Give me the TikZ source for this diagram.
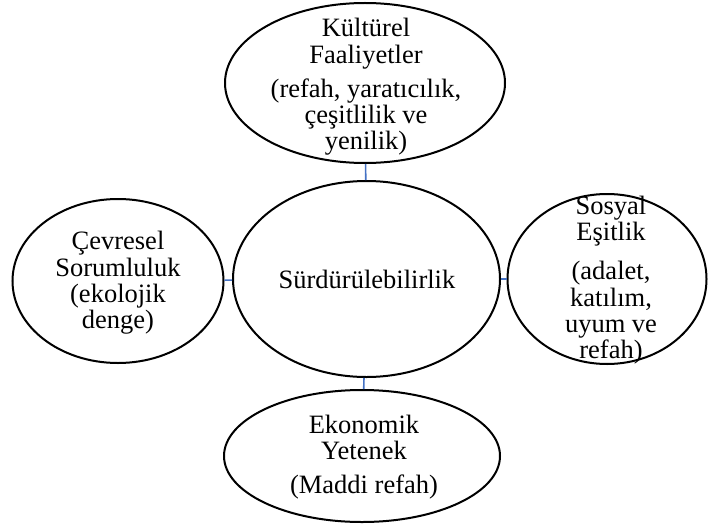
\documentclass[tikz,border=0pt]{standalone}
\usepackage{fontspec}
\setmainfont{Liberation Serif}
\usetikzlibrary{shapes.geometric}
\definecolor{linkblue}{HTML}{4472C4}
\begin{document}
\begin{tikzpicture}[x=1pt,y=-1pt,
    bubble/.style={draw=black,line width=2pt,ellipse,inner sep=0pt},
    txt/.style={align=center,inner sep=0pt,font=\fontsize{26.5}{26.3}\selectfont},
    link/.style={draw=linkblue,line width=1.6pt}]
    \useasboundingbox (0,0) rectangle (708,524);
    \node[bubble,minimum width=280,minimum height=160] (kultur) at (365,83) {};
    \node[bubble,minimum width=267,minimum height=196] (surd) at (366.5,279) {};
    \node[bubble,minimum width=211,minimum height=164] (cevre) at (118,281) {};
    \node[bubble,minimum width=199,minimum height=170] (sosyal) at (607,279) {};
    \node[bubble,minimum width=276,minimum height=132] (ekonomi) at (362,456) {};
    \draw[link] (kultur) -- (surd);
    \draw[link] (cevre) -- (surd);
    \draw[link] (sosyal) -- (surd);
    \draw[link] (ekonomi) -- (surd);
    \node[txt] (kultur-t) at (366,87) {Kültürel\\Faaliyetler\\[8pt](refah, yaratıcılık,\\çeşitlilik ve\\yenilik)};
    \node[txt] (surd-t) at (367,279) {Sürdürülebilirlik};
    \node[txt] (cevre-t) at (118,283) {Çevresel\\Sorumluluk\\(ekolojik\\denge)};
    \node[txt] (sosyal-t) at (611,280) {Sosyal\\Eşitlik\\[13pt](adalet,\\katılım,\\uyum ve\\refah)};
    \node[txt] (ekonomi-t) at (364,457) {Ekonomik\\Yetenek\\[7pt](Maddi refah)};
\end{tikzpicture}
\end{document}
